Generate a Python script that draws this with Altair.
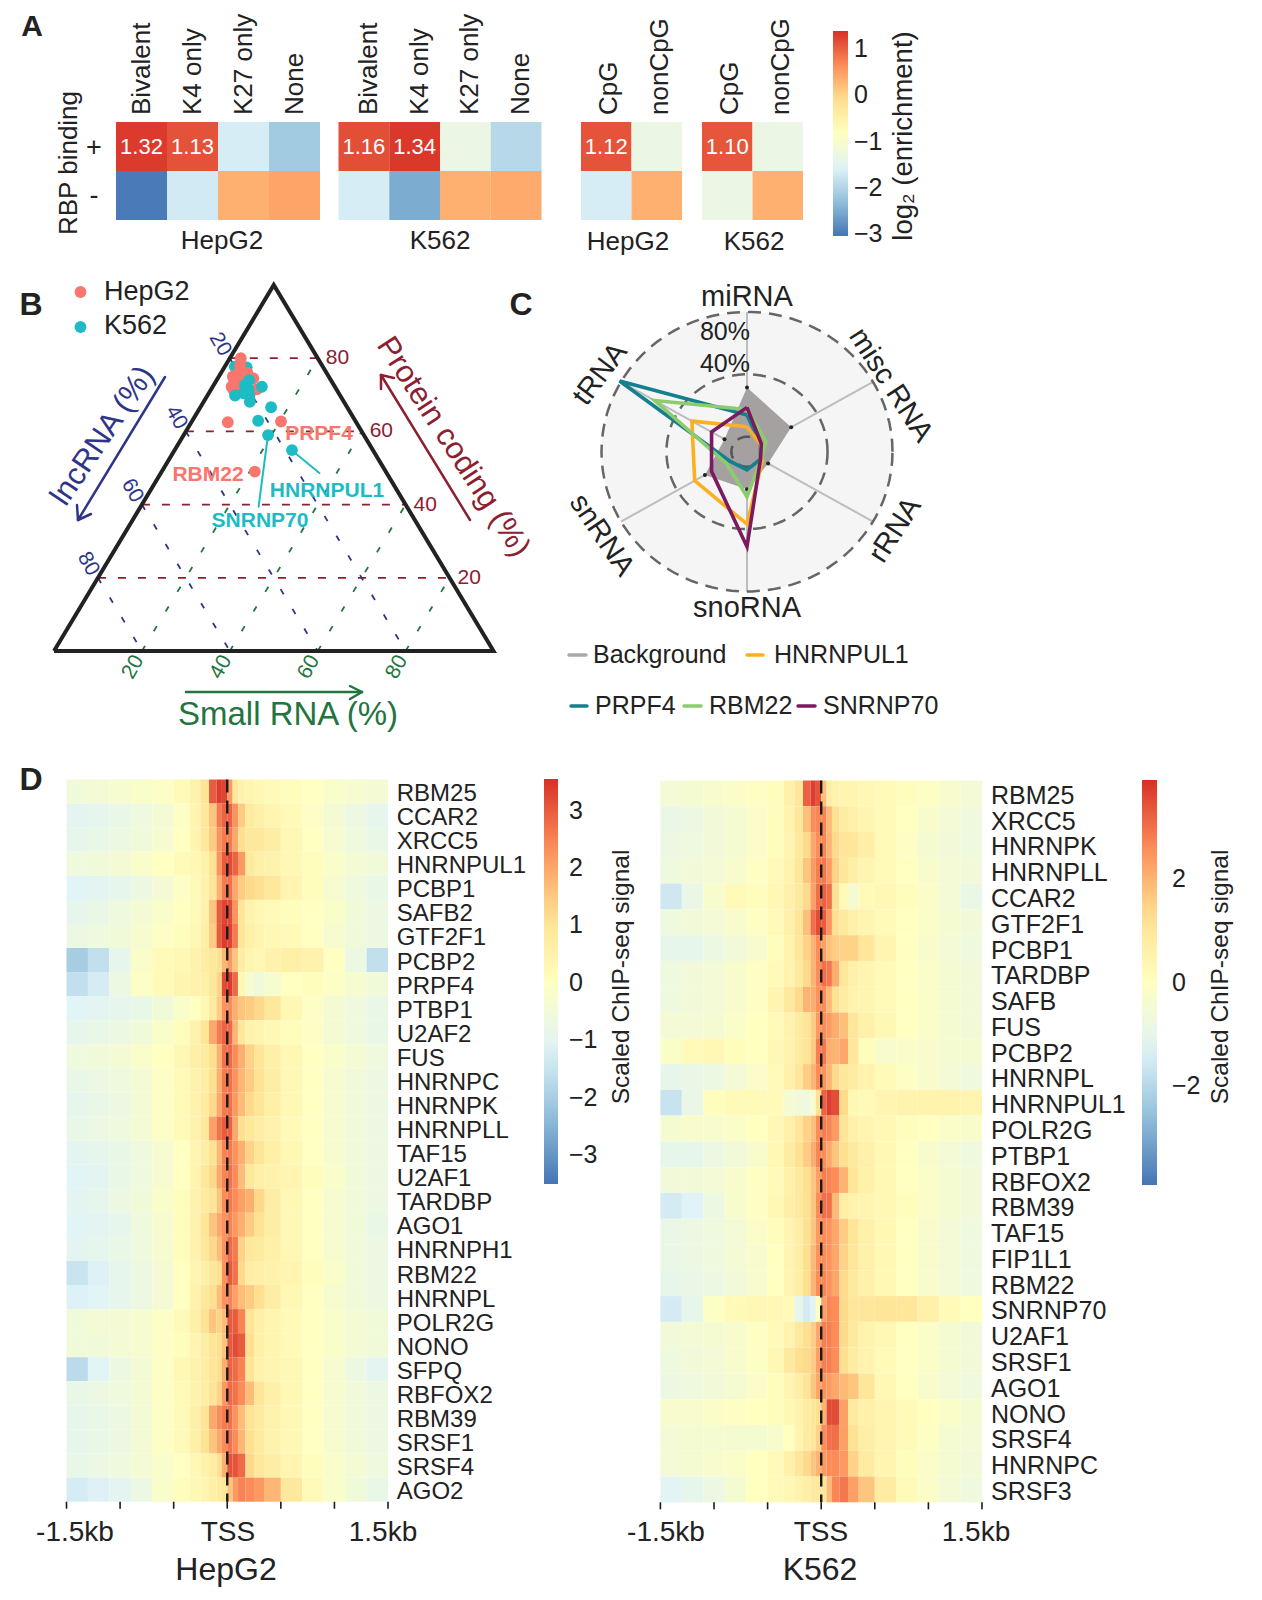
import numpy as np
import pandas as pd
import altair as alt

FONT = "Liberation Sans"
INK = "#222222"
M = 8
RAMP = ["#4575b4", "#91bfdb", "#e0f3f8", "#ffffbf", "#fee090", "#fc8d59", "#d73027"]

# ---------- panel A ----------
marks_cols = ["Bivalent", "K4 only", "K27 only", "None"]
cpg_cols = ["CpG", "nonCpG"]
rbp_rows = ["+", "-"]
hepg2_marks = [[1.32, 1.13, -1.65, -2.15], [-3.0, -1.7, 0.35, 0.45]]
k562_marks = [[1.16, 1.34, -1.3, -1.95], [-1.65, -2.5, 0.35, 0.4]]
hepg2_cpg = [[1.12, -1.3], [-1.65, 0.35]]
k562_cpg = [[1.10, -1.3], [-1.3, 0.35]]
enrich_ticks = [1, 0, -1, -2, -3]

# ---------- panel B ----------
hep_small = [2.5, 3.3, 3.95, 3.2, 5.3, 8.1, 4.3, 6.3, 10.4, 5.2, 4.0, 6.0, 8.3, 20.3, 21.2]
hep_protein = [80.0, 78.1, 75.9, 75.0, 74.0, 74.5, 72.2, 71.8, 71.5, 71.3, 74.0, 76.0, 62.5, 62.7, 49.0]
k562_small = [2.3, 5.1, 5.1, 7.4, 7.1, 11.2, 6.3, 7.9, 9.5, 10.5, 8.5, 16.1, 15.0, 19.2, 26.7]
k562_protein = [77.7, 77.5, 75.9, 74.0, 72.7, 72.2, 69.8, 70.4, 69.9, 68.1, 71.5, 66.6, 62.9, 59.0, 54.9]
tern_ticks = [20, 40, 60, 80]

# ---------- panel C ----------
radar_axes = ["miRNA", "misc RNA", "rRNA", "snoRNA", "snRNA", "tRNA"]
radar_angles = [90, 30, -30, -90, -150, 150]
radar_background = [31.6, 21.8, 5.4, 14.5, 20.3, 6.4]
radar_prpf4 = [13.9, 0.0, 0.0, 2.0, 2.6, 81.0]
radar_hnrnpul1 = [6.4, 0.0, 1.4, 36.8, 27.6, 29.6]
radar_rbm22 = [17.5, 3.8, 0.5, 19.2, 5.2, 56.0]
radar_snrnp70 = [18.8, 0.6, 0.0, 51.3, 15.6, 15.6]

# ---------- panel D ----------
bin_edges = [-1.5, -1.3, -1.1, -0.9, -0.7, -0.5, -0.35, -0.25, -0.17, -0.1, -0.05, 0,
             0.05, 0.1, 0.17, 0.25, 0.35, 0.5, 0.7, 0.9, 1.1, 1.3, 1.5]
kb_ticks = [-1.5, -1, -0.5, 0, 0.5, 1, 1.5]

hepg2_signal = {
    "RBM25": [-0.5, -0.4, -0.3, -0.2, -0.1, 0.2, 0.5, 1.0, 3.0, 3.4, 3.3, 2.2, 0.9, 0.5, 0.4, 0.3, 0.2, 0.1, 0, -0.2, -0.3, -0.4],
    "CCAR2": [-1.0, -0.9, -0.8, -0.6, -0.4, -0.1, 0.4, 0.9, 1.6, 2.6, 2.9, 2.9, 2.3, 1.5, 0.8, 0.6, 0.4, 0.2, -0.1, -0.4, -0.7, -0.9],
    "XRCC5": [-0.9, -0.8, -0.7, -0.5, -0.3, 0, 0.4, 0.9, 1.5, 2.3, 2.6, 2.6, 2.0, 1.2, 0.9, 0.9, 0.7, 0.3, 0, -0.3, -0.6, -0.8],
    "HNRNPUL1": [-0.6, -0.5, -0.4, -0.2, 0, 0.2, 0.3, 0.5, 1.1, 2.3, 3.0, 3.2, 2.9, 2.2, 0.8, 0.6, 0.5, 0.3, 0.1, -0.2, -0.4, -0.5],
    "PCBP1": [-1.1, -1.0, -0.9, -0.7, -0.4, -0.1, 0.2, 0.5, 1.0, 1.9, 2.6, 2.7, 2.0, 1.5, 1.3, 1.2, 0.9, 0.4, 0.1, -0.3, -0.6, -0.8],
    "SAFB2": [-0.9, -0.8, -0.6, -0.4, -0.2, 0, 0.2, 0.5, 1.6, 3.0, 3.3, 3.2, 2.3, 1.0, 0.5, 0.3, 0.2, 0.1, 0, -0.2, -0.5, -0.7],
    "GTF2F1": [-0.7, -0.6, -0.5, -0.3, -0.1, 0.1, 0.3, 0.6, 1.5, 3.0, 3.4, 3.3, 2.6, 1.0, 0.6, 0.4, 0.3, 0.2, 0, -0.3, -0.5, -0.7],
    "PCBP2": [-2.0, -1.6, -0.9, -0.2, 0.2, 0.3, 0.5, 0.7, 0.9, 1.1, 1.8, 2.2, 1.6, 0.7, 0.4, 0.3, 0.5, 0.6, 0.5, 0, -0.7, -1.6],
    "PRPF4": [-1.6, -1.3, -0.7, -0.1, 0.2, 0.4, 0.5, 0.6, 0.9, 1.4, 3.2, 3.4, 2.8, 0.3, -0.3, -0.5, -0.3, 0, 0.1, -0.1, -0.3, -0.5],
    "PTBP1": [-1.1, -1.0, -0.9, -0.8, -0.5, -0.2, 0, 0.3, 0.8, 1.5, 2.3, 2.4, 1.9, 1.6, 1.5, 1.3, 0.9, 0.3, -0.1, -0.4, -0.6, -0.8],
    "U2AF2": [-0.9, -0.8, -0.7, -0.5, -0.2, 0.1, 0.5, 1.0, 2.0, 2.6, 2.9, 2.8, 1.8, 0.9, 0.5, 0.4, 0.3, 0.1, -0.1, -0.4, -0.6, -0.8],
    "FUS": [-0.6, -0.5, -0.4, -0.2, 0, 0.3, 0.6, 0.8, 1.2, 1.9, 2.7, 2.8, 2.4, 1.9, 1.4, 1.0, 0.6, 0.3, 0, -0.2, -0.4, -0.6],
    "HNRNPC": [-0.8, -0.7, -0.6, -0.4, -0.1, 0.2, 0.5, 0.7, 1.2, 1.9, 2.6, 2.7, 2.3, 1.8, 1.5, 1.1, 0.7, 0.3, 0, -0.3, -0.5, -0.7],
    "HNRNPK": [-0.9, -0.8, -0.7, -0.4, -0.1, 0.2, 0.5, 0.8, 1.3, 2.0, 2.6, 2.7, 2.2, 1.7, 1.3, 1.0, 0.6, 0.3, 0, -0.3, -0.5, -0.7],
    "HNRNPLL": [-0.8, -0.7, -0.6, -0.4, -0.1, 0.2, 0.5, 0.9, 2.1, 2.7, 3.0, 2.9, 2.0, 1.2, 0.9, 0.7, 0.5, 0.2, 0, -0.3, -0.5, -0.7],
    "TAF15": [-1.0, -0.9, -0.8, -0.6, -0.3, 0, 0.4, 0.7, 1.1, 1.8, 2.5, 2.6, 2.3, 1.9, 1.4, 1.0, 0.6, 0.3, 0, -0.3, -0.5, -0.7],
    "U2AF1": [-1.1, -1.0, -0.8, -0.6, -0.3, 0, 0.4, 0.9, 1.3, 2.0, 2.5, 2.7, 2.4, 1.7, 0.9, 0.6, 0.5, 0.4, 0.1, -0.2, -0.5, -0.7],
    "TARDBP": [-1.0, -0.9, -0.7, -0.5, -0.2, 0.1, 0.5, 0.8, 1.0, 1.6, 2.4, 2.6, 2.4, 2.1, 1.9, 1.3, 0.7, 0.3, 0, -0.3, -0.5, -0.7],
    "AGO1": [-1.1, -1.0, -0.9, -0.6, -0.3, 0.1, 0.5, 1.0, 1.6, 2.0, 2.3, 2.5, 2.2, 1.9, 1.5, 1.1, 0.7, 0.3, 0, -0.3, -0.5, -0.8],
    "HNRNPH1": [-1.0, -0.9, -0.8, -0.6, -0.3, 0.1, 0.5, 0.9, 1.3, 1.7, 2.3, 2.8, 2.6, 1.4, 0.9, 0.8, 0.6, 0.3, 0, -0.3, -0.5, -0.7],
    "RBM22": [-1.5, -1.2, -0.9, -0.7, -0.4, 0, 0.4, 0.6, 0.9, 1.2, 2.3, 3.0, 2.7, 1.3, 0.7, 0.6, 0.5, 0.4, 0.1, -0.2, -0.5, -0.7],
    "HNRNPL": [-1.2, -1.1, -0.9, -0.7, -0.4, 0, 0.5, 0.9, 1.2, 1.7, 2.3, 2.5, 2.1, 1.7, 1.5, 1.2, 0.7, 0.3, 0, -0.3, -0.5, -0.7],
    "POLR2G": [-0.5, -0.4, -0.4, -0.3, -0.1, 0.2, 0.6, 1.1, 1.6, 1.4, 1.7, 3.0, 3.0, 2.5, 1.0, 0.6, 0.4, 0.2, 0, -0.2, -0.4, -0.5],
    "NONO": [-0.5, -0.5, -0.4, -0.3, -0.1, 0.1, 0.4, 0.7, 1.0, 1.2, 1.6, 3.0, 3.2, 3.0, 1.2, 0.6, 0.4, 0.2, 0, -0.2, -0.4, -0.5],
    "SFPQ": [-1.7, -1.1, -0.7, -0.4, -0.1, 0.3, 0.5, 0.7, 1.0, 1.2, 1.9, 2.9, 2.8, 2.5, 1.0, 0.5, 0.4, 0.3, 0, -0.3, -0.7, -1.0],
    "RBFOX2": [-0.8, -0.7, -0.6, -0.4, -0.1, 0.2, 0.5, 0.7, 1.0, 1.4, 2.2, 2.8, 2.7, 2.4, 1.7, 1.0, 0.6, 0.3, 0, -0.3, -0.5, -0.7],
    "RBM39": [-0.9, -0.8, -0.7, -0.4, -0.1, 0.2, 0.6, 1.0, 2.0, 2.4, 2.6, 2.7, 2.3, 1.7, 1.1, 0.8, 0.5, 0.3, 0, -0.3, -0.5, -0.7],
    "SRSF1": [-0.9, -0.8, -0.7, -0.4, -0.1, 0.2, 0.6, 1.1, 1.6, 2.0, 2.4, 2.7, 2.4, 1.8, 1.2, 0.8, 0.5, 0.3, 0, -0.3, -0.5, -0.7],
    "SRSF4": [-0.8, -0.7, -0.6, -0.4, -0.2, 0, 0.3, 0.5, 0.7, 1.2, 1.9, 3.1, 3.1, 2.8, 1.3, 0.9, 0.7, 0.4, 0.1, -0.2, -0.4, -0.6],
    "AGO2": [-1.3, -1.2, -1.0, -0.7, -0.2, 0.1, 0.3, 0.4, 0.6, 0.8, 0.9, 1.6, 2.2, 2.5, 2.4, 2.2, 1.8, 0.9, 0.2, -0.2, -0.5, -0.8],
}

k562_signal = {
    "RBM25": [-0.5, -0.4, -0.3, -0.2, -0.1, 0.1, 0.6, 1.0, 3.2, 3.7, 3.4, 1.8, 0.7, 0.5, 0.4, 0.4, 0.3, 0.2, 0.1, -0.1, -0.3, -0.5],
    "XRCC5": [-0.9, -0.8, -0.6, -0.4, -0.2, 0.1, 0.5, 1.0, 1.8, 2.6, 2.7, 2.7, 1.9, 1.2, 0.8, 0.6, 0.4, 0.2, 0, -0.3, -0.5, -0.7],
    "HNRNPK": [-0.8, -0.7, -0.6, -0.4, -0.2, 0.1, 0.4, 0.9, 1.4, 2.2, 2.6, 2.7, 2.0, 1.4, 1.1, 1.0, 0.7, 0.2, -0.1, -0.4, -0.6, -0.7],
    "HNRNPLL": [-0.7, -0.6, -0.5, -0.3, -0.1, 0.2, 0.5, 1.0, 1.7, 2.4, 2.8, 2.9, 2.4, 1.5, 1.0, 0.7, 0.4, 0.2, 0, -0.3, -0.5, -0.6],
    "CCAR2": [-1.6, -0.9, -0.3, 0.2, 0.1, 0.3, 0.6, 0.9, 1.4, 2.3, 3.0, 3.2, 3.0, 1.2, 0.2, -0.4, 0.2, 0.3, 0.1, -0.2, -0.5, -0.9],
    "GTF2F1": [-0.7, -0.6, -0.5, -0.3, -0.1, 0.2, 0.6, 1.1, 1.8, 3.0, 3.5, 3.3, 2.5, 1.3, 0.9, 0.6, 0.4, 0.2, 0, -0.2, -0.4, -0.6],
    "PCBP1": [-1.0, -1.0, -0.8, -0.6, -0.3, 0.1, 0.5, 1.0, 1.5, 2.0, 2.6, 2.3, 1.8, 1.6, 1.5, 1.5, 1.0, 0.4, 0, -0.3, -0.5, -0.7],
    "TARDBP": [-0.7, -0.6, -0.5, -0.3, -0.1, 0.2, 0.5, 0.9, 1.4, 2.0, 2.6, 3.0, 2.9, 2.1, 1.0, 0.6, 0.4, 0.2, 0, -0.2, -0.4, -0.6],
    "SAFB": [-0.7, -0.6, -0.5, -0.3, -0.1, 0.4, 0.9, 1.4, 2.0, 2.1, 2.5, 2.6, 1.9, 1.2, 0.8, 0.5, 0.4, 0.2, 0, -0.2, -0.4, -0.6],
    "FUS": [-0.5, -0.5, -0.4, -0.2, 0, 0.2, 0.5, 0.8, 1.1, 1.6, 2.4, 2.6, 2.4, 2.1, 1.8, 1.0, 0.6, 0.3, 0, -0.2, -0.4, -0.6],
    "PCBP2": [-0.2, 0.2, 0.3, 0.1, 0, 0.3, 0.5, 0.8, 1.1, 1.6, 2.8, 2.9, 2.1, 2.0, 2.2, 1.0, 0.1, -0.3, -0.2, -0.3, -0.4, -0.4],
    "HNRNPL": [-1.0, -0.9, -0.8, -0.5, -0.2, 0.2, 0.6, 1.0, 1.6, 2.0, 2.6, 2.5, 2.0, 1.4, 1.0, 0.8, 0.5, 0.2, -0.1, -0.3, -0.5, -0.7],
    "HNRNPUL1": [-1.7, -0.9, 0.1, 0.2, 0.2, 0.2, -0.4, -0.6, -0.7, -0.3, 1.2, 3.2, 3.7, 3.5, 1.4, 0.3, 0.2, 0.4, 0.5, 0.5, 0.5, 0.4],
    "POLR2G": [-0.4, -0.3, -0.3, -0.2, 0, 0.3, 0.6, 1.0, 1.5, 1.8, 2.6, 2.8, 2.7, 2.4, 1.1, 0.6, 0.4, 0.3, 0.1, 0, -0.2, -0.3],
    "PTBP1": [-1.0, -1.0, -0.8, -0.6, -0.3, 0.3, 0.8, 1.2, 1.6, 2.1, 2.7, 2.6, 2.2, 1.7, 1.3, 0.9, 0.6, 0.3, 0, -0.3, -0.5, -0.7],
    "RBFOX2": [-0.6, -0.6, -0.5, -0.3, -0.1, 0.2, 0.6, 0.9, 1.3, 1.7, 2.3, 2.8, 2.7, 2.6, 2.0, 1.1, 0.6, 0.3, 0, -0.2, -0.4, -0.6],
    "RBM39": [-1.5, -1.3, -0.8, -0.3, -0.1, 0.3, 0.7, 0.9, 1.2, 1.7, 2.6, 3.0, 3.0, 1.9, 0.7, 0.5, 0.4, 0.3, 0.1, -0.2, -0.4, -0.6],
    "TAF15": [-0.9, -0.8, -0.7, -0.5, -0.2, 0.1, 0.4, 0.7, 1.2, 1.7, 2.4, 2.6, 2.5, 2.2, 1.6, 1.1, 0.6, 0.3, 0, -0.3, -0.5, -0.7],
    "FIP1L1": [-0.9, -0.8, -0.7, -0.5, -0.3, 0, 0.4, 0.7, 1.3, 1.9, 2.5, 2.6, 2.5, 2.2, 1.5, 1.0, 0.6, 0.3, 0, -0.3, -0.5, -0.7],
    "RBM22": [-1.0, -0.9, -0.8, -0.6, -0.3, 0, 0.4, 0.7, 1.3, 2.0, 2.6, 2.7, 2.5, 2.2, 1.4, 0.9, 0.6, 0.3, 0, -0.3, -0.5, -0.7],
    "SNRNP70": [-1.5, -1.0, -0.1, 0.2, 0.3, 0.3, 0.2, -1.0, -1.5, -1.2, 0, 2.3, 2.7, 2.6, 1.4, 1.0, 1.0, 1.1, 1.0, 0.6, 0.2, 0],
    "U2AF1": [-0.6, -0.5, -0.4, -0.3, -0.1, 0.2, 0.5, 0.9, 1.3, 1.6, 2.2, 2.8, 2.8, 2.6, 1.4, 0.9, 0.5, 0.3, 0, -0.2, -0.4, -0.6],
    "SRSF1": [-0.7, -0.6, -0.5, -0.3, -0.1, 0.3, 0.9, 1.3, 1.4, 1.6, 2.3, 2.8, 2.8, 2.6, 1.3, 0.8, 0.5, 0.2, 0, -0.2, -0.4, -0.6],
    "AGO1": [-0.8, -0.7, -0.6, -0.4, -0.2, 0.1, 0.4, 0.7, 1.1, 1.7, 2.2, 2.5, 2.4, 2.2, 1.9, 1.7, 1.0, 0.3, 0, -0.3, -0.5, -0.7],
    "NONO": [-0.3, -0.3, -0.2, -0.1, 0, 0.1, 0.3, 0.5, 0.8, 1.0, 1.3, 2.0, 3.5, 3.5, 2.3, 0.9, 0.6, 0.4, 0.2, 0, -0.2, -0.4],
    "SRSF4": [-0.5, -0.4, -0.4, -0.4, -0.4, -0.3, 0, 0.4, 0.8, 1.0, 1.5, 2.6, 3.0, 3.0, 2.3, 1.2, 0.7, 0.4, 0.2, -0.1, -0.4, -0.5],
    "HNRNPC": [-0.5, -0.4, -0.3, -0.2, 0, 0.2, 0.6, 1.0, 1.4, 1.7, 2.0, 2.4, 2.6, 2.6, 2.4, 1.5, 0.8, 0.4, 0.1, -0.2, -0.4, -0.6],
    "SRSF3": [-1.2, -1.0, -0.8, -0.4, 0, 0.2, 0.3, 0.5, 0.7, 0.9, 0.9, 1.0, 1.9, 2.7, 2.9, 2.3, 1.7, 0.8, 0.2, -0.2, -0.5, -0.7],
}

layers = []


def color_scale(lo, hi):
    return alt.Scale(domain=list(np.linspace(lo, hi, len(RAMP))), range=RAMP, clamp=True, interpolate="rgb")


def label(s, x, y, size=25, color=INK, angle=None, align="center", weight="normal"):
    kw = {"angle": angle} if angle is not None else {}
    return alt.Chart(pd.DataFrame({"t": [s]})).mark_text(
        font=FONT, fontSize=size, color=color, align=align, baseline="middle",
        fontWeight=weight, **kw
    ).encode(text="t:N", x=alt.value(x - M), y=alt.value(y - M))


def seg(x1, y1, x2, y2, color, width=2):
    return alt.Chart(pd.DataFrame({"a": [0]})).mark_rule(
        color=color, strokeWidth=width, strokeCap="round"
    ).encode(x=alt.value(x1 - M), x2=alt.value(x2 - M), y=alt.value(y1 - M), y2=alt.value(y2 - M))


def legend(x, y, length, thick, ticks, offset):
    return alt.Legend(
        orient="none", legendX=x - M, legendY=y - M, title=None, padding=0,
        gradientLength=length, gradientThickness=thick, values=ticks, direction="vertical",
        labelFont=FONT, labelFontSize=25, labelColor=INK, labelOffset=offset,
        labelOverlap=False, tickCount=len(ticks), gradientStrokeWidth=0,
        labelExpr="replace(datum.label, '-', '−')",
    )


# ---------- panel A drawing ----------
A_COLOR = (-3.05, 1.4)


def enrich_heat(cols, values, x0, x1, leg=None, shift=0):
    df = pd.DataFrame(
        [{"col": c, "row": r, "v": values[i][j]} for i, r in enumerate(rbp_rows) for j, c in enumerate(cols)]
    )
    xs = alt.X("col:N", axis=None, scale=alt.Scale(domain=cols, range=[x0 - M, x1 - M], paddingInner=0, paddingOuter=0))
    ys = alt.Y("row:N", axis=None, scale=alt.Scale(domain=rbp_rows, range=[122 - M, 220 - M], paddingInner=0, paddingOuter=0))
    heat = alt.Chart(df).mark_rect().encode(
        x=xs, y=ys,
        color=alt.Color("v:Q", scale=color_scale(*A_COLOR), legend=leg),
    )
    nums = alt.Chart(df[df.v > 1]).mark_text(font=FONT, fontSize=22, color="white", baseline="middle").encode(
        x=xs, y=ys, text=alt.Text("v:Q", format=".2f")
    )
    heads = alt.Chart(pd.DataFrame({"col": cols})).mark_text(
        font=FONT, fontSize=26, color=INK, angle=270, align="left", baseline="middle", dy=shift
    ).encode(x=xs, y=alt.value(115 - M), text="col:N")
    return [heat, nums, heads]


layers += enrich_heat(marks_cols, hepg2_marks, 116, 320, legend(833, 31, 205, 15, enrich_ticks, 6))
layers += enrich_heat(marks_cols, k562_marks, 338.5, 541.5, shift=5)
layers += enrich_heat(cpg_cols, hepg2_cpg, 581, 682, shift=3)
layers += enrich_heat(cpg_cols, k562_cpg, 702, 803, shift=3)
layers += [
    label("A", 32, 27, 30, "#222222", weight="bold"),
    label("RBP binding", 69, 163, 26, angle=270),
    label("+", 94, 148, 27),
    label("-", 94, 196, 27),
    label("HepG2", 222, 241, 26),
    label("K562", 440, 241, 26),
    label("HepG2", 628, 242, 26),
    label("K562", 754, 242, 26),
    label("log₂ (enrichment)", 904, 136, 27.5, angle=270),
]

# ---------- panel B drawing ----------
RED = "#8c2030"
BLUE = "#2e3588"
GREEN = "#23743f"
SALMON = "#f8766d"
TEAL = "#1dbcc4"
tx = alt.Scale(domain=[0, 100], range=[54 - M, 493.5 - M])
ty = alt.Scale(domain=[0, 100], range=[651 - M, 285 - M])


def grid(df, color, dash):
    return alt.Chart(df).mark_rule(color=color, strokeWidth=1.8, strokeDash=dash).encode(
        x=alt.X("x1:Q", axis=None, scale=tx), x2="x2:Q",
        y=alt.Y("y1:Q", axis=None, scale=ty), y2="y2:Q",
    )


t = np.array(tern_ticks, dtype=float)
layers.append(grid(pd.DataFrame({"x1": t / 2, "x2": 100 - t / 2, "y1": t, "y2": t}), RED, [8, 12]))
layers.append(grid(pd.DataFrame({"x1": (100 - t) / 2, "x2": 100 - t, "y1": 100 - t, "y2": 0 * t}), BLUE, [6, 17]))
layers.append(grid(pd.DataFrame({"x1": t, "x2": t + (100 - t) / 2, "y1": 0 * t, "y2": 100 - t}), GREEN, [6, 17]))


def tern_labels(df, color, angle=None, align="center", dx=0):
    kw = {"angle": angle} if angle is not None else {}
    return alt.Chart(df).mark_text(
        font=FONT, fontSize=21, color=color, align=align, baseline="middle", dx=dx, **kw
    ).encode(
        x=alt.X("x:Q", axis=None, scale=tx), y=alt.Y("y:Q", axis=None, scale=ty), text="v:N"
    )


layers.append(tern_labels(pd.DataFrame({"x": 100 - t / 2, "y": t, "v": tern_ticks}), RED, align="left", dx=8))
layers.append(tern_labels(pd.DataFrame({"x": (100 - t) / 2 - 2.2, "y": 100 - t + 3.8, "v": tern_ticks}), BLUE, angle=60))
layers.append(tern_labels(pd.DataFrame({"x": t - 2, "y": -4.4 * np.ones(4), "v": tern_ticks}), GREEN, angle=300))


def tern_points(small, protein, color):
    df = pd.DataFrame({"s": small, "p": protein})
    df["f"] = df.s + df.p / 2
    return alt.Chart(df).mark_circle(size=140, color=color, opacity=1).encode(
        x=alt.X("f:Q", axis=None, scale=tx), y=alt.Y("p:Q", axis=None, scale=ty)
    )


layers.append(tern_points(k562_small[:3], k562_protein[:3], TEAL))
layers.append(tern_points(hep_small[:12], hep_protein[:12], SALMON))
layers.append(tern_points(k562_small[3:], k562_protein[3:], TEAL))
layers.append(tern_points(hep_small[12:], hep_protein[12:], SALMON))

outline = pd.DataFrame({"f": [0, 100, 50, 0], "p": [0, 0, 100, 0], "i": [0, 1, 2, 3]})
layers.append(
    alt.Chart(outline).mark_line(color="#222222", strokeWidth=4, strokeJoin="miter").encode(
        x=alt.X("f:Q", axis=None, scale=tx), y=alt.Y("p:Q", axis=None, scale=ty), order="i:Q"
    )
)
layers += [
    seg(268, 435, 258.6, 506.7, TEAL),
    seg(291.4, 450, 319.4, 473, TEAL),
    label("PRPF4", 319, 434, 21, SALMON, weight="bold"),
    label("RBM22", 208, 475, 21, SALMON, weight="bold"),
    label("HNRNPUL1", 327, 491, 21, TEAL, weight="bold"),
    label("SNRNP70", 260, 521, 21, TEAL, weight="bold"),
    label("B", 31, 305, 32, weight="bold"),
    label("HepG2", 104, 292, 27, align="left"),
    label("K562", 104, 326, 27, align="left"),
    label("lncRNA (%)", 103, 436, 31, BLUE, angle=304),
    label("Protein coding (%)", 453, 447, 31, RED, angle=57),
    label("Small RNA (%)", 288, 715, 33, GREEN),
    # arrows
    seg(165, 377, 78, 520, BLUE, 2.5), seg(78, 520, 77, 505, BLUE, 2.5), seg(78, 520, 91, 514, BLUE, 2.5),
    seg(470, 520, 381, 375, RED, 2.5), seg(381, 375, 381, 389, RED, 2.5), seg(381, 375, 394, 378, RED, 2.5),
    seg(186, 692, 362, 692, GREEN, 2.5), seg(362, 692, 350, 686, GREEN, 2.5), seg(362, 692, 350, 699, GREEN, 2.5),
]
layers.append(
    alt.Chart(pd.DataFrame({"a": [0]})).mark_circle(size=140, color=SALMON, opacity=1).encode(
        x=alt.value(80.5 - M), y=alt.value(292 - M))
)
layers.append(
    alt.Chart(pd.DataFrame({"a": [0]})).mark_circle(size=140, color=TEAL, opacity=1).encode(
        x=alt.value(80.5 - M), y=alt.value(327 - M))
)

# ---------- panel C drawing ----------
R0 = 9.6  # radial offset of the 0% ring
rx = alt.Scale(domain=[-100, 100], range=[739 - 162.4, 739 + 162.4])
ry = alt.Scale(domain=[-100, 100], range=[443.7 + 156, 443.7 - 156])


def polar(vals, angles, close=True):
    vals = list(vals)
    angles = list(angles)
    if close:
        vals = vals + vals[:1]
        angles = angles + angles[:1]
    a = np.radians(angles)
    r = np.array(vals, dtype=float) + R0
    return pd.DataFrame({"x": r * np.cos(a), "y": r * np.sin(a), "i": range(len(vals))})


def radar_line(df, **mk):
    return alt.Chart(df).mark_line(**mk).encode(
        x=alt.X("x:Q", axis=None, scale=rx), y=alt.Y("y:Q", axis=None, scale=ry), order="i:Q"
    )


ring_angles = list(range(0, 360, 4))


def ring(v):
    return polar([v] * len(ring_angles), ring_angles)


layers.append(radar_line(ring(80), color="#f5f5f5", fill="#f5f5f5", strokeWidth=0))
spokes = polar([80] * 6, radar_angles, close=False)
spokes["x0"] = 0.0
spokes["y0"] = 0.0
layers.append(
    alt.Chart(spokes).mark_rule(color="#bdbdbd", strokeWidth=2).encode(
        x=alt.X("x0:Q", axis=None, scale=rx), x2="x:Q", y=alt.Y("y0:Q", axis=None, scale=ry), y2="y:Q"
    )
)
layers.append(radar_line(ring(80), color="#666666", strokeWidth=2.5, strokeDash=[13, 8]))
layers.append(radar_line(ring(40), color="#666666", strokeWidth=2.5, strokeDash=[13, 8]))
layers.append(radar_line(polar(radar_background, radar_angles), color="#a5a1a1", fill="#a5a1a1", strokeWidth=0))
layers.append(
    alt.Chart(polar(radar_background, radar_angles, close=False)).mark_circle(size=16, color="#222222", opacity=1).encode(
        x=alt.X("x:Q", axis=None, scale=rx), y=alt.Y("y:Q", axis=None, scale=ry)
    )
)
layers.append(radar_line(ring(0), color="#555555", strokeWidth=2.5, strokeDash=[13, 8]))
for vals, col in [(radar_prpf4, "#137f8f"), (radar_hnrnpul1, "#fbb022"), (radar_rbm22, "#8ccc6e"), (radar_snrnp70, "#7b1a5f")]:
    layers.append(radar_line(polar(vals, radar_angles), color=col, strokeWidth=3.6, strokeJoin="miter"))

layers += [
    label("C", 521, 305, 32, weight="bold"),
    label("80%", 750, 332, 25, align="right"),
    label("40%", 750, 364, 25, align="right"),
    label("miRNA", 747, 297, 29),
    label("snoRNA", 747, 608, 29),
    label("misc RNA", 891, 385, 29, angle=57),
    label("tRNA", 600, 374, 29, angle=307),
    label("snRNA", 602, 535, 29, angle=56),
    label("rRNA", 895, 530, 29, angle=303),
    seg(569, 655, 586, 655, "#a9a9a9", 3.5),
    label("Background", 593, 655, 25, align="left"),
    seg(747, 655, 763, 655, "#fbb022", 3.5),
    label("HNRNPUL1", 774, 655, 25, align="left"),
    seg(571, 706, 587, 706, "#137f8f", 3.5),
    label("PRPF4", 595, 706, 25, align="left"),
    seg(684, 706, 701, 706, "#8ccc6e", 3.5),
    label("RBM22", 709, 706, 25, align="left"),
    seg(798, 706, 815, 706, "#7b1a5f", 3.5),
    label("SNRNP70", 823, 706, 25, align="left"),
]


# ---------- panel D drawing ----------
def chip_panel(signal, x0, x1, y0, y1, dom, leg, lab_x, lab_size):
    genes = list(signal)
    recs = []
    for g in genes:
        for k, v in enumerate(signal[g]):
            recs.append({"gene": g, "a": bin_edges[k], "b": bin_edges[k + 1], "v": v})
    df = pd.DataFrame(recs)
    xs = alt.Scale(domain=[-1.5, 1.5], range=[x0 - M, x1 - M])
    ys = alt.Scale(domain=genes, range=[y0 - M, y1 - M], paddingInner=0, paddingOuter=0)
    heat = alt.Chart(df).mark_rect(stroke=None).encode(
        x=alt.X("a:Q", axis=None, scale=xs), x2="b:Q",
        y=alt.Y("gene:N", axis=None, scale=ys),
        color=alt.Color("v:Q", scale=color_scale(*dom), legend=leg),
    )
    names = alt.Chart(pd.DataFrame({"gene": genes})).mark_text(
        font=FONT, fontSize=lab_size, color=INK, align="left", baseline="middle", dy=2.5
    ).encode(x=alt.value(lab_x - M), y=alt.Y("gene:N", axis=None, scale=ys), text="gene:N")
    tss = alt.Chart(pd.DataFrame({"k": [0.0]})).mark_rule(color="#1a1a1a", strokeWidth=2.4, strokeDash=[13, 8]).encode(
        x=alt.X("k:Q", axis=None, scale=xs), y=alt.value(y0 - M), y2=alt.value(y1 - M)
    )
    ticks = alt.Chart(pd.DataFrame({"k": kb_ticks})).mark_rule(color="#1a1a1a", strokeWidth=1.6).encode(
        x=alt.X("k:Q", axis=None, scale=xs), y=alt.value(y1 - M), y2=alt.value(y1 + 7 - M)
    )
    return [heat, names, tss, ticks]


layers += chip_panel(hepg2_signal, 66.5, 388, 779.5, 1501.7, (-3.5, 3.55),
                     legend(544, 779, 405, 14, [3, 2, 1, 0, -1, -2, -3], 11), 396.7, 24)
layers += chip_panel(k562_signal, 660.4, 982, 780.5, 1502.3, (-3.9, 3.9),
                     legend(1142, 780, 405, 15, [2, 0, -2], 15), 991, 25)
layers += [
    label("D", 31, 780, 32, weight="bold"),
    label("Scaled ChIP-seq signal", 622, 977, 24.5, angle=270),
    label("Scaled ChIP-seq signal", 1221, 977, 24.5, angle=270),
    label("-1.5kb", 75, 1533, 28),
    label("TSS", 228, 1533, 28),
    label("1.5kb", 383, 1533, 28),
    label("-1.5kb", 666, 1533, 28),
    label("TSS", 821, 1533, 28),
    label("1.5kb", 976, 1533, 28),
    label("HepG2", 226, 1570, 32),
    label("K562", 820, 1570, 32),
]

chart = (
    alt.layer(*layers)
    .resolve_scale(x="independent", y="independent", color="independent")
    .properties(
        width=1246, height=1584, padding=0,
        autosize=alt.AutoSizeParams(type="none", contains="padding"),
    )
    .configure_view(stroke=None)
)
chart.save("out.html", embed_options={"renderer": "svg", "actions": False})
